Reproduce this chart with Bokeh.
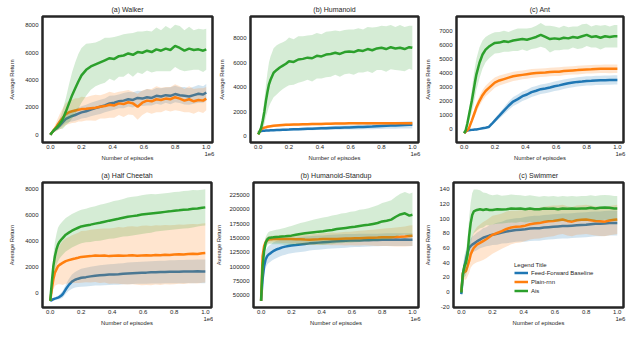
import numpy as np
from bokeh.plotting import figure
from bokeh.layouts import column, row
from bokeh.models import (FixedTicker, NumeralTickFormatter, Range1d, LinearAxis,
                          Legend, LegendItem)
from bokeh.embed import file_html
from bokeh.resources import INLINE

FONT = "Liberation Sans"
TXT = "#262626"
C_FF, C_RNN, C_AIS = "#1f77b4", "#ff7f0e", "#2ca02c"
SERIES_NAMES = ["Feed-Forward Baseline", "Plain-rnn", "Ais"]

# x in units of 1e6 episodes
X = [0, 0.01, 0.02, 0.03, 0.04, 0.05, 0.06, 0.07, 0.08, 0.10,
     0.12, 0.14, 0.16, 0.18, 0.20, 0.23, 0.26, 0.29, 0.32, 0.35,
     0.38, 0.41, 0.44, 0.47, 0.50, 0.53, 0.56, 0.59, 0.62, 0.65,
     0.68, 0.71, 0.74, 0.77, 0.80, 0.83, 0.86, 0.89, 0.92, 0.95,
     0.98, 1.0]
x_ticks = [0.0, 0.2, 0.4, 0.6, 0.8, 1.0]
x_scale_text = "1e6"
x_scale_pos = 1.02

# ---------------- Walker ----------------
walker_ff = [0, 150, 280, 380, 470, 560, 680, 800, 930, 1160,
             1280, 1380, 1450, 1550, 1640, 1720, 1850, 1950, 2050, 2150,
             2300, 2350, 2450, 2500, 2600, 2550, 2700, 2650, 2750, 2700,
             2850, 2800, 2900, 2850, 2980, 2900, 2850, 2800, 2900, 3000,
             2950, 3100]
walker_ff_sd = [0, 50, 80, 100, 120, 150, 180, 200, 250, 300,
                350, 400, 420, 450, 450, 480, 500, 500, 520, 500,
                550, 520, 500, 550, 530, 560, 520, 550, 600, 560,
                580, 600, 560, 620, 600, 580, 640, 600, 620, 650,
                600, 620]
walker_rnn = [0, 160, 320, 450, 620, 800, 950, 1100, 1250, 1520,
              1650, 1720, 1780, 1830, 1880, 1900, 1950, 1980, 2050, 2100,
              2200, 2150, 2300, 2250, 2380, 2300, 2050, 2350, 2500, 2450,
              2600, 2550, 2650, 2600, 2750, 2650, 2500, 2600, 2450, 2550,
              2500, 2650]
walker_rnn_sd = [0, 80, 150, 250, 350, 450, 550, 650, 700, 800,
                 850, 850, 900, 850, 900, 850, 900, 950, 850, 900,
                 950, 900, 850, 950, 900, 850, 950, 900, 850, 900,
                 950, 900, 850, 900, 950, 900, 850, 950, 900, 850,
                 900, 850]
walker_ais = [0, 150, 300, 420, 520, 650, 800, 950, 1150, 1700,
              2300, 2900, 3400, 3900, 4350, 4750, 5000, 5150, 5300, 5450,
              5600, 5550, 5750, 5800, 5950, 5850, 6050, 6000, 6150, 6050,
              6250, 6150, 6300, 6200, 6500, 6350, 6150, 6300, 6200, 6250,
              6150, 6250]
walker_ais_sd = [0, 50, 100, 150, 200, 300, 400, 500, 700, 1000,
                 1400, 1700, 1900, 2000, 2000, 1900, 1700, 1600, 1600, 1650,
                 1500, 1600, 1500, 1550, 1450, 1600, 1500, 1550, 1450, 1500,
                 1600, 1500, 1650, 1550, 1550, 1600, 1500, 1600, 1450, 1500,
                 1550, 1500]

# ---------------- Humanoid ----------------
humanoid_ff = [300, 380, 420, 440, 450, 460, 470, 475, 480, 490,
               500, 510, 520, 530, 540, 560, 570, 590, 600, 610,
               630, 650, 660, 680, 690, 700, 710, 720, 735, 750,
               760, 780, 790, 810, 830, 850, 870, 880, 900, 920,
               930, 940]
humanoid_ff_sd = [20, 30, 40, 50, 50, 60, 60, 70, 70, 80,
                  80, 90, 90, 100, 100, 110, 110, 120, 120, 130,
                  130, 140, 150, 150, 160, 170, 170, 180, 190, 200,
                  200, 210, 220, 230, 240, 250, 260, 270, 280, 290,
                  300, 300]
humanoid_rnn = [150, 400, 590, 650, 700, 730, 770, 800, 820, 860,
                880, 900, 920, 930, 940, 950, 960, 970, 980, 990,
                1000, 1000, 1010, 1020, 1030, 1030, 1040, 1050, 1050, 1050,
                1060, 1050, 1060, 1050, 1060, 1050, 1060, 1050, 1060, 1050,
                1060, 1050]
humanoid_rnn_sd = [30, 60, 80, 100, 100, 100, 100, 100, 100, 100,
                   100, 110, 100, 110, 100, 110, 100, 110, 100, 110,
                   100, 110, 100, 110, 100, 110, 100, 110, 100, 110,
                   100, 110, 100, 110, 100, 110, 100, 110, 100, 110,
                   100, 110]
humanoid_ais = [150, 400, 730, 1300, 2000, 2880, 3600, 4230, 4600, 5170,
                5400, 5600, 5750, 5900, 6100, 6050, 6250, 6300, 6400, 6350,
                6550, 6500, 6650, 6700, 6800, 6700, 6850, 6900, 6850, 7000,
                6950, 7100, 7000, 7150, 7200, 7100, 7250, 7150, 7200, 7100,
                7250, 7200]
humanoid_ais_sd = [50, 200, 400, 700, 1000, 1300, 1600, 1800, 1900, 2000,
                   2000, 1950, 1900, 1900, 1950, 1850, 1900, 1850, 1800, 1900,
                   1850, 1800, 1850, 1850, 1800, 1850, 1800, 1800, 1850, 1800,
                   1750, 1800, 1850, 1750, 1800, 1850, 1800, 1750, 1850, 1800,
                   1750, 1800]

# ---------------- Ant ----------------
ant_ff = [-300, -180, -120, -100, -80, -70, -60, -50, -40, 0,
          40, 80, 130, 350, 590, 940, 1300, 1650, 1950, 2120,
          2330, 2450, 2620, 2720, 2830, 2880, 2950, 3040, 3100, 3180,
          3250, 3300, 3350, 3380, 3420, 3430, 3450, 3460, 3470, 3480,
          3490, 3490]
ant_ff_sd = [50, 50, 50, 50, 50, 50, 50, 50, 50, 60,
             60, 60, 70, 100, 150, 200, 250, 300, 320, 330,
             340, 340, 340, 340, 340, 340, 340, 340, 340, 340,
             330, 330, 330, 330, 330, 330, 330, 330, 330, 330,
             330, 330]
ant_rnn = [-300, -200, -100, 0, 300, 590, 900, 1200, 1530, 2000,
           2400, 2700, 2900, 3100, 3300, 3450, 3550, 3650, 3750, 3800,
           3850, 3900, 3950, 3980, 4000, 4020, 4050, 4070, 4080, 4120,
           4150, 4170, 4190, 4220, 4240, 4250, 4270, 4280, 4290, 4280,
           4290, 4290]
ant_rnn_sd = [50, 60, 80, 100, 150, 200, 250, 300, 320, 350,
              370, 380, 380, 380, 370, 360, 350, 340, 330, 330,
              320, 320, 320, 310, 310, 300, 300, 300, 310, 300,
              300, 300, 310, 300, 300, 300, 310, 300, 300, 310,
              300, 300]
ant_ais = [-300, -100, 350, 900, 1450, 2000, 2650, 3300, 3890, 4710,
           5300, 5650, 5850, 6000, 6130, 6150, 6250, 6200, 6300, 6350,
           6400, 6350, 6450, 6550, 6700, 6550, 6400, 6450, 6400, 6500,
           6450, 6550, 6500, 6600, 6700, 6550, 6600, 6500, 6600, 6550,
           6600, 6600]
ant_ais_sd = [50, 100, 200, 400, 600, 800, 1000, 1100, 1100, 1100,
              1000, 900, 850, 800, 750, 750, 750, 700, 750, 800,
              750, 800, 750, 800, 850, 800, 950, 850, 800, 850,
              800, 750, 800, 850, 800, 750, 800, 850, 800, 750,
              800, 800]

# ---------------- Half Cheetah ----------------
cheetah_ff = [-640, -580, -510, -470, -430, -385, -330, -240, -130, 256,
              600, 850, 1000, 1080, 1150, 1200, 1260, 1310, 1340, 1370,
              1400, 1410, 1430, 1460, 1490, 1510, 1530, 1540, 1550, 1570,
              1580, 1590, 1600, 1610, 1615, 1620, 1630, 1640, 1640, 1650,
              1640, 1640]
cheetah_ff_sd = [50, 60, 80, 100, 120, 150, 180, 220, 260, 350,
                 450, 550, 600, 650, 700, 720, 740, 760, 780, 800,
                 800, 800, 820, 820, 840, 840, 850, 860, 860, 870,
                 870, 880, 880, 890, 890, 900, 900, 900, 910, 910,
                 920, 920]
cheetah_rnn = [-640, 256, 1030, 1540, 1800, 2050, 2150, 2230, 2300, 2440,
               2520, 2590, 2640, 2700, 2770, 2800, 2830, 2870, 2850, 2880,
               2830, 2860, 2880, 2850, 2870, 2900, 2860, 2880, 2900, 2870,
               2920, 2900, 2940, 2920, 2950, 2980, 2960, 3000, 3020, 3000,
               3060, 3080]
cheetah_rnn_sd = [50, 500, 800, 1000, 1200, 1400, 1500, 1600, 1700, 1750,
                  1800, 1850, 1900, 1950, 2000, 2000, 2050, 2050, 2100, 2100,
                  2150, 2150, 2200, 2200, 2250, 2250, 2250, 2300, 2300, 2300,
                  2300, 2300, 2300, 2300, 2300, 2300, 2300, 2300, 2300, 2300,
                  2300, 2300]
cheetah_ais = [-640, 770, 2050, 2820, 3350, 3720, 3950, 4100, 4230, 4490,
               4650, 4800, 4920, 5030, 5130, 5200, 5270, 5350, 5420, 5500,
               5580, 5650, 5720, 5800, 5880, 5930, 5980, 6050, 6100, 6140,
               6180, 6220, 6260, 6300, 6350, 6380, 6420, 6450, 6500, 6530,
               6580, 6610]
cheetah_ais_sd = [50, 400, 800, 1100, 1200, 1300, 1300, 1300, 1300, 1300,
                  1300, 1300, 1300, 1300, 1300, 1300, 1350, 1350, 1400, 1400,
                  1400, 1450, 1450, 1450, 1500, 1500, 1500, 1500, 1500, 1500,
                  1450, 1450, 1450, 1450, 1450, 1450, 1450, 1450, 1450, 1400,
                  1400, 1400]

# ---------------- Humanoid-Standup ----------------
standup_ff = [40000, 77700, 100800, 112400, 118000, 121000, 123000, 125000, 126800, 129700,
              131500, 133500, 134800, 135800, 136600, 137500, 138500, 139500, 140500, 141200,
              141800, 142400, 143000, 143600, 144150, 144500, 144900, 145300, 145500, 145700,
              145900, 146100, 146300, 146500, 146800, 147000, 147000, 147100, 147000, 147100,
              147000, 147000]
standup_ff_sd = [1000, 10000, 14000, 15000, 15000, 15000, 15000, 15000, 15000, 15000,
                 14500, 14000, 14000, 13500, 13500, 13000, 13000, 13000, 12500, 12500,
                 12500, 12000, 12000, 12000, 12000, 12000, 12000, 11500, 11500, 11500,
                 11500, 11000, 11000, 11000, 11000, 11000, 11000, 11000, 11000, 11000,
                 11000, 11000]
standup_rnn = [40000, 118160, 135500, 142400, 145500, 147000, 147500, 147800, 148000, 148200,
               148000, 148300, 148100, 148200, 148200, 147800, 147500, 147200, 147000, 147300,
               147600, 148000, 148200, 148300, 148200, 148500, 148800, 149000, 149300, 149600,
               150000, 150200, 150400, 150600, 151000, 151200, 151400, 151600, 152000, 152500,
               153500, 154000]
standup_rnn_sd = [1000, 8000, 8000, 7000, 6000, 6000, 6000, 6000, 6000, 6000,
                  6500, 7000, 7000, 7500, 8000, 8000, 8500, 9000, 9000, 9500,
                  10000, 10000, 10500, 11000, 11000, 11500, 12000, 12000, 12500, 13000,
                  13000, 13500, 14000, 14500, 15000, 15500, 16000, 16500, 17000, 17500,
                  18000, 18000]
standup_ais = [40000, 100800, 126800, 141260, 147000, 149900, 150500, 150800, 151000, 151650,
               152000, 152500, 152800, 153500, 154000, 155500, 157000, 158000, 159000, 160000,
               161000, 161500, 163000, 164000, 165500, 166500, 167500, 168500, 169500, 171000,
               172000, 173000, 174500, 176000, 178800, 180000, 182000, 187000, 191000, 193000,
               189000, 190350]
standup_ais_sd = [1000, 8000, 9000, 10000, 10000, 10500, 11000, 11500, 12000, 12500,
                  13000, 14000, 15000, 16000, 17000, 18000, 19000, 20000, 21000, 22000,
                  23000, 24000, 24000, 25000, 25000, 26000, 26000, 27000, 27000, 28000,
                  28000, 29000, 30000, 31000, 32000, 33000, 34000, 35000, 36000, 37000,
                  38000, 39000]

# ---------------- Swimmer ----------------
swimmer_ff = [-3, 22, 35, 44, 54, 60, 62.5, 64.6, 66, 69,
              71.5, 74, 75.5, 77, 78, 79.5, 81, 82.5, 83.5, 84.5,
              85, 85.5, 86.5, 87, 87, 88, 88.5, 89, 89.5, 90,
              90, 90.5, 91, 91.5, 91.7, 92.5, 93, 93, 93.5, 94,
              94, 94]
swimmer_ff_sd = [3, 8, 10, 10, 10, 10, 10, 11, 11, 12,
                 12, 13, 13, 14, 14, 15, 15, 16, 16, 16,
                 16, 17, 17, 17, 17, 17, 17, 17, 17, 17,
                 17, 17, 17, 17, 17, 17, 17, 17, 17, 17,
                 17, 17]
swimmer_rnn = [0, 26, 27, 28.5, 35, 42, 51, 56, 60, 64.6,
               67, 69.5, 72, 75, 78, 80.5, 83, 86, 88, 89,
               89.5, 90.5, 92.5, 93.5, 94, 95.5, 96.5, 97, 98, 99,
               97, 96, 98, 98.5, 99, 98, 97, 96.5, 96, 97.5,
               98.5, 99]
swimmer_rnn_sd = [5, 8, 10, 12, 14, 16, 18, 20, 22, 24,
                  25, 26, 26, 26, 26, 25, 24, 24, 23, 22,
                  22, 21, 21, 21, 21, 21, 21, 21, 20, 20,
                  20, 20, 20, 20, 20, 20, 20, 20, 20, 20,
                  20, 20]
swimmer_ais = [-1, 25, 35, 40, 51, 76, 94, 105, 110, 112,
               113, 112, 113, 112, 112, 113, 112.5, 113, 114, 113.5,
               114, 113, 114, 113, 113, 114, 113.5, 114, 113, 114,
               113.5, 114, 113.5, 114, 114, 115, 114, 115, 115.5, 115,
               114, 114]
swimmer_ais_sd = [5, 10, 15, 18, 20, 25, 28, 30, 30, 28,
                  26, 24, 22, 21, 20, 20, 19, 19, 19, 19,
                  18, 18, 18, 18, 17, 17, 17, 17, 17, 17,
                  17, 17, 17, 17, 17, 17, 17, 17, 17, 17,
                  17, 17]

titles = ["(a) Walker", "(b) Humanoid", "(c) Ant",
          "(a) Half Cheetah", "(b) Humanoid-Standup", "(c) Swimmer"]
y_ticks = [[0, 2000, 4000, 6000, 8000],
           [0, 2000, 4000, 6000, 8000],
           [0, 1000, 2000, 3000, 4000, 5000, 6000, 7000],
           [0, 2000, 4000, 6000, 8000],
           [50000, 75000, 100000, 125000, 150000, 175000, 200000, 225000],
           [-20, 0, 20, 40, 60, 80, 100, 120, 140]]
y_limits = [(-560, 8650), (-510, 9750), (-970, 8010),
            (-1154, 8538), (28500, 246800), (-21.3, 149.5)]
panel_data = [
    [(walker_ff, walker_ff_sd), (walker_rnn, walker_rnn_sd), (walker_ais, walker_ais_sd)],
    [(humanoid_ff, humanoid_ff_sd), (humanoid_rnn, humanoid_rnn_sd), (humanoid_ais, humanoid_ais_sd)],
    [(ant_ff, ant_ff_sd), (ant_rnn, ant_rnn_sd), (ant_ais, ant_ais_sd)],
    [(cheetah_ff, cheetah_ff_sd), (cheetah_rnn, cheetah_rnn_sd), (cheetah_ais, cheetah_ais_sd)],
    [(standup_ff, standup_ff_sd), (standup_rnn, standup_rnn_sd), (standup_ais, standup_ais_sd)],
    [(swimmer_ff, swimmer_ff_sd), (swimmer_rnn, swimmer_rnn_sd), (swimmer_ais, swimmer_ais_sd)],
]

# layout: (width, height, left, right, top, bottom, ylabel standoff)
layout_spec = [
    (216, 166, 42, 4, 15, 24, 7),
    (206, 166, 31, 4, 15, 24, 5),
    (207, 166, 30, 6, 15, 24, 5),
    (213, 165, 42, 2, 15, 24, 7),
    (209, 165, 35, 4, 15, 24, 4),
    (207, 165, 30, 6, 15, 24, 5),
]


def style_axis(ax):
    ax.axis_line_color = None
    ax.major_tick_line_color = None
    ax.minor_tick_line_color = None
    ax.major_tick_out = 0
    ax.major_tick_in = 0
    ax.minor_tick_out = 0
    ax.minor_tick_in = 0
    ax.major_label_text_font = FONT
    ax.major_label_text_font_size = "6px"
    ax.major_label_text_color = TXT
    ax.axis_label_text_font = FONT
    ax.axis_label_text_font_size = "5.8px"
    ax.axis_label_text_font_style = "normal"
    ax.axis_label_text_color = TXT


def make_panel(i):
    w, h, bl, br, bt, bb, ystand = layout_spec[i]
    p = figure(width=w, height=h, output_backend="svg", toolbar_location=None,
               x_range=Range1d(-0.05, 1.04),
               y_range=Range1d(*y_limits[i]),
               min_border_left=bl, min_border_right=br,
               min_border_top=bt, min_border_bottom=bb)
    p.title.text = titles[i]
    p.title.align = "center"
    p.title.text_font = FONT
    p.title.text_font_size = "7px"
    p.title.text_font_style = "normal"
    p.title.text_color = TXT
    p.title.standoff = 7
    p.outline_line_color = TXT
    p.outline_line_width = 2.5
    p.grid.visible = False
    p.background_fill_color = "white"
    p.border_fill_color = "white"

    # main x axis: tick labels only
    xa = p.xaxis[0]
    xa.ticker = FixedTicker(ticks=x_ticks)
    xa.formatter = NumeralTickFormatter(format="0.0")
    style_axis(xa)
    xa.major_label_standoff = 2

    # second x axis: the "1e6" offset text plus the axis title on one row
    xb = LinearAxis(ticker=FixedTicker(ticks=[x_scale_pos]),
                    major_label_overrides={x_scale_pos: x_scale_text},
                    axis_label="Number of episodes")
    style_axis(xb)
    xb.major_label_standoff = 0
    xb.axis_label_standoff = -4
    p.add_layout(xb, "below")

    ya = p.yaxis[0]
    ya.ticker = FixedTicker(ticks=y_ticks[i])
    ya.formatter = NumeralTickFormatter(format="0")
    ya.axis_label = "Average Return"
    style_axis(ya)
    ya.major_label_standoff = 4
    ya.axis_label_standoff = ystand

    renderers = []
    for (mean, sd), col in zip(panel_data[i], (C_FF, C_RNN, C_AIS)):
        m = np.array(mean, dtype=float)
        s = np.array(sd, dtype=float)
        p.varea(x=X, y1=m - s, y2=m + s, fill_color=col, fill_alpha=0.2)
        r = p.line(X, m, line_color=col, line_width=2.5)
        renderers.append(r)

    if i == 5:
        legend = Legend(items=[LegendItem(label=n, renderers=[r])
                               for n, r in zip(SERIES_NAMES, renderers)],
                        title="Legend Title", location=(61, 12))
        legend.background_fill_alpha = 0
        legend.border_line_color = None
        legend.padding = 0
        legend.margin = 0
        legend.spacing = 0
        legend.glyph_width = 14
        legend.glyph_height = 9
        legend.label_height = 9
        legend.label_standoff = 3
        legend.label_text_font = FONT
        legend.label_text_font_size = "6px"
        legend.label_text_color = TXT
        legend.title_text_font = FONT
        legend.title_text_font_size = "6px"
        legend.title_text_font_style = "normal"
        legend.title_text_color = TXT
        legend.title_standoff = 0
        p.add_layout(legend)
    return p


panels = [make_panel(i) for i in range(6)]
layout = column(row(*panels[:3]), row(*panels[3:]))

open("out.html", "w").write(file_html(layout, INLINE))
